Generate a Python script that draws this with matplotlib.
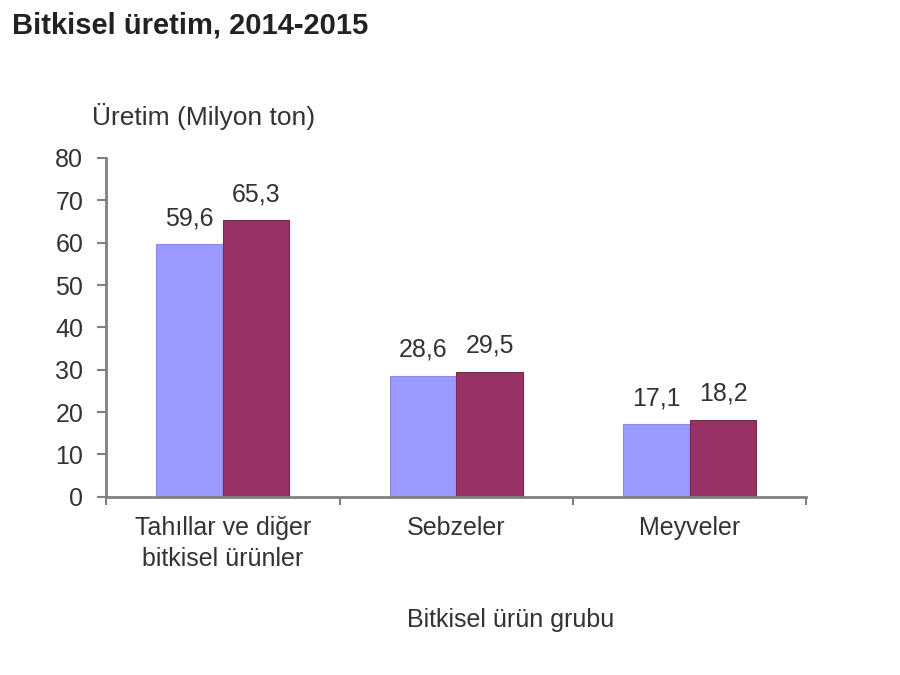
#!/usr/bin/env python3
"""Bitkisel üretim, 2014-2015 bar chart."""

import matplotlib
matplotlib.use("Agg")
import matplotlib.pyplot as plt
import numpy as np

categories = ["Tahıllar ve diğer\nbitkisel ürünler", "Sebzeler", "Meyveler"]
values_2014 = [59.6, 28.6, 17.1]
values_2015 = [65.3, 29.5, 18.2]
series_labels = ["2014", "2015"]
y_ticks = [0, 10, 20, 30, 40, 50, 60, 70, 80]

plt.rcParams["font.family"] = ["Liberation Sans", "DejaVu Sans"]

TEXT = "#333333"


def fmt(v):
    return f"{v:.1f}".replace(".", ",")


def main():
    fig = plt.figure(figsize=(9, 6.75), dpi=100)
    ax = fig.add_axes([0.118, 0.264, 0.778, 0.502])

    x = np.arange(len(categories))
    width = 0.285
    b1 = ax.bar(x - width / 2, values_2014, width, color="#9999FF",
                edgecolor="#8a8ae6", linewidth=0.8, label=series_labels[0])
    b2 = ax.bar(x + width / 2, values_2015, width, color="#993366",
                edgecolor="#7a2850", linewidth=0.8, label=series_labels[1])

    for bars, vals in ((b1, values_2014), (b2, values_2015)):
        for rect, v in zip(bars, vals):
            ax.annotate(fmt(v), (rect.get_x() + rect.get_width() / 2, v),
                        xytext=(0, 10), textcoords="offset points",
                        ha="center", va="bottom", fontsize=18, color=TEXT)

    ax.set_xlim(-0.5, len(categories) - 0.5)
    ax.set_ylim(0, 80)
    ax.set_yticks(y_ticks)
    ax.tick_params(axis="y", labelsize=18, labelcolor=TEXT,
                   color="#808080", length=6.5, width=1.5, direction="out", pad=10)

    # category labels at centers, tick marks at boundaries
    ax.set_xticks(x)
    ax.set_xticklabels(categories, fontsize=18, color=TEXT, linespacing=1.35)
    ax.tick_params(axis="x", length=0, pad=14)
    ax.set_xticks(np.arange(len(categories) + 1) - 0.5, minor=True)
    ax.tick_params(axis="x", which="minor", length=6, width=1.5,
                   color="#808080", direction="out")

    for side in ("top", "right"):
        ax.spines[side].set_visible(False)
    for side in ("left", "bottom"):
        ax.spines[side].set_color("#808080")
        ax.spines[side].set_linewidth(2)

    fig.text(0.013, 0.962, "Bitkisel üretim, 2014-2015", fontsize=21,
             fontweight="bold", color="#222222", ha="left", va="center")
    fig.text(0.102, 0.827, "Üretim (Milyon ton)", fontsize=19,
             color=TEXT, ha="left", va="center")
    fig.text(0.567, 0.081, "Bitkisel ürün grubu", fontsize=18,
             color=TEXT, ha="center", va="center")

    fig.savefig("out.png", dpi=100)
    plt.close(fig)


if __name__ == "__main__":
    main()
